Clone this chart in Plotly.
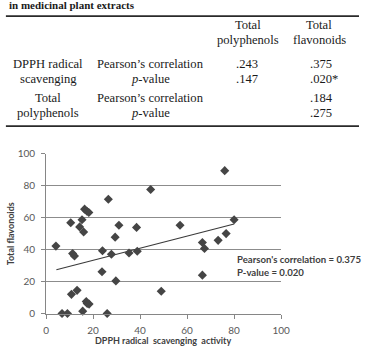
import plotly.graph_objects as go

# ---- data ----
dpph = [4.2, 6.8, 9.1, 10.5, 11.3, 12.1, 10.8, 13.2, 14.3, 15.3, 16.0, 16.4, 17.4, 18.2,
        15.6, 17.1, 17.5, 18.3, 23.8, 24.0, 26.0, 26.5, 27.8, 29.4, 29.7, 31.0, 35.3,
        38.5, 38.8, 44.5, 49.0, 57.0, 66.5, 67.4, 66.5, 73.2, 76.6, 76.0, 80.0]
flav = [42.2, 0, 0, 56.8, 37.5, 36.0, 12.0, 14.5, 54.2, 58.7, 51.0, 65.3, 64.0, 63.2,
        1.5, 7.5, 6.3, 5.9, 26.1, 39.3, 0, 71.5, 37.1, 47.8, 20.4, 55.2, 37.9,
        53.9, 39.0, 77.6, 13.9, 55.2, 44.4, 40.7, 24.0, 45.8, 50.0, 89.4, 58.7]
trend_x = [4.4, 80.0]
trend_y = [27.4, 56.0]
ticks = [0, 20, 40, 60, 80, 100]

col_headers = [["Total", "polyphenols"], ["Total", "flavonoids"]]
row_groups = [["DPPH radical", "scavenging"], ["Total", "polyphenols"]]
row_stats = ["Pearson’s correlation", "<i>p</i>-value", "Pearson’s correlation", "<i>p</i>-value"]
col_poly = [".243", ".147", "", ""]
col_flav = [".375", ".020*", ".184", ".275"]

W, H = 368, 350
def px(x): return x / W
def py(y): return 1 - y / H

fig = go.Figure()
fig.add_trace(go.Scatter(x=trend_x, y=trend_y, mode="lines",
                         line=dict(color="#3a3a3a", width=1.2), hoverinfo="skip",
                         showlegend=False))
fig.add_trace(go.Scatter(x=dpph, y=flav, mode="markers", cliponaxis=False,
                         marker=dict(symbol="diamond", size=7, color="#454545"),
                         showlegend=False))

ann = []
serif = dict(family="Liberation Serif", size=12.6, color="#1a1a1a")
# table title fragment (top edge of the crop)
ann.append(dict(x=px(4), y=py(-1), xref="paper", yref="paper", xanchor="left", yanchor="middle",
                text="<b>in medicinal plant extracts</b>", showarrow=False,
                font=dict(family="Liberation Serif", size=11, color="#1a1a1a")))
# column headers
for i, (cx) in enumerate([253, 327]):
    for j, ty in enumerate([20, 35]):
        ann.append(dict(x=px(cx), y=py(ty), xref="paper", yref="paper", text=col_headers[i][j],
                        showarrow=False, font=serif, xanchor="center", yanchor="middle"))
row_y = [59.5, 75, 94.5, 110]
for g in range(2):
    for j in range(2):
        ann.append(dict(x=px(47), y=py(row_y[g * 2 + j]), xref="paper", yref="paper",
                        text=row_groups[g][j], showarrow=False, font=serif,
                        xanchor="center", yanchor="middle"))
for k in range(4):
    ann.append(dict(x=px(152), y=py(row_y[k]), xref="paper", yref="paper", text=row_stats[k],
                    showarrow=False, font=serif, xanchor="center", yanchor="middle"))
    if col_poly[k]:
        ann.append(dict(x=px(252), y=py(row_y[k]), xref="paper", yref="paper", text=col_poly[k],
                        showarrow=False, font=serif, xanchor="center", yanchor="middle"))
    ann.append(dict(x=px(315), y=py(row_y[k]), xref="paper", yref="paper", text=col_flav[k],
                    showarrow=False, font=serif, xanchor="left", yanchor="middle"))

# chart annotations
cfont = dict(family="Lato", size=9.6, color="#404040")
ann.append(dict(x=px(240), y=py(262), xref="paper", yref="paper", xanchor="left", yanchor="middle",
                text="<b>Pearson's correlation = 0.375</b>", showarrow=False, font=cfont))
ann.append(dict(x=px(240), y=py(275), xref="paper", yref="paper", xanchor="left", yanchor="middle",
                text="<b>P-value = 0.020</b>", showarrow=False, font=cfont))
tfont = dict(family="Lato", size=9, color="#404040")
ann.append(dict(x=px(165), y=py(345), xref="paper", yref="paper", xanchor="center", yanchor="middle",
                text="<b>DPPH radical  scavenging  activity</b>", showarrow=False, font=tfont))
ann.append(dict(x=px(8), y=py(235), xref="paper", yref="paper", xanchor="center", yanchor="middle",
                text="<b>Total flavonoids</b>", textangle=-90, showarrow=False, font=tfont))

shapes = [
    dict(type="line", xref="paper", yref="paper", x0=px(3), x1=1, y0=py(10.5), y1=py(10.5),
         line=dict(color="#2a2a2a", width=1.6)),
    dict(type="line", xref="paper", yref="paper", x0=px(3), x1=1, y0=py(124), y1=py(124),
         line=dict(color="#2a2a2a", width=1.6)),
]

tickfont = dict(family="Lato", size=10, color="#595959")
fig.update_layout(
    width=W, height=H, margin=dict(l=0, r=0, t=0, b=0),
    paper_bgcolor="white", plot_bgcolor="white",
    annotations=ann, shapes=shapes,
    xaxis=dict(domain=[px(44.5), px(287.5)], range=[0, 100], tickvals=ticks,
               showgrid=False, zeroline=False, showline=True, linecolor="#868686", linewidth=1,
               ticks="outside", ticklen=4, tickcolor="#868686", tickfont=tickfont,
               ticklabelstandoff=3),
    yaxis=dict(domain=[py(317.5), py(152.5)], range=[0, 100], tickvals=ticks,
               showgrid=True, gridcolor="#8c8c8c", gridwidth=1, zeroline=False,
               showline=True, linecolor="#868686", linewidth=1,
               ticks="outside", ticklen=4, tickcolor="#868686", tickfont=tickfont,
               ticklabelstandoff=4),
)
fig.write_html("out.html")
